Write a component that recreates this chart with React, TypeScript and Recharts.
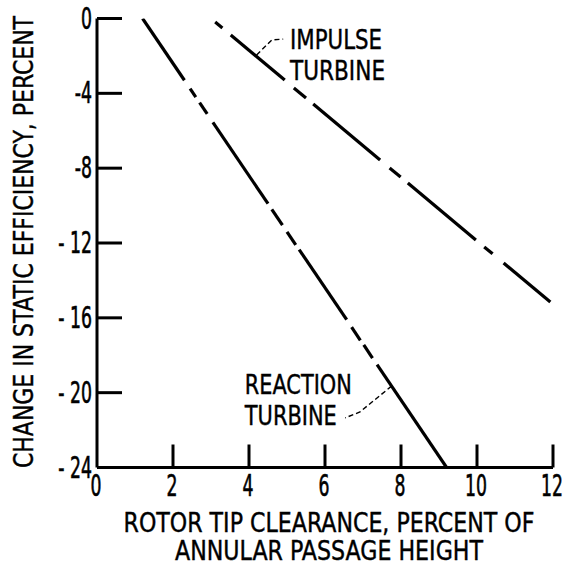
import { LineChart, Line, XAxis, YAxis, ReferenceDot } from 'recharts'

const FONT = "'DejaVu Sans Condensed', 'Liberation Sans Narrow', sans-serif"

const X_TICKS = [0, 2, 4, 6, 8, 10, 12]
const Y_TICKS = [0, -4, -8, -12, -16, -20, -24]

// each curve is drawn as runs of [x, y] pairs: long solid runs with short dashes between
const REACTION_RUNS = [
  [[1.2, 0], [2.3, -3.3]],
  [[2.45, -3.75], [2.6, -4.2]],
  [[2.7, -4.5], [2.9, -5.1]],
  [[3.05, -5.55], [4.5, -9.9]],
  [[4.6, -10.2], [4.88, -11.05]],
  [[5.0, -11.4], [5.23, -12.1]],
  [[5.32, -12.35], [6.57, -16.1]],
  [[6.7, -16.5], [6.93, -17.2]],
  [[7.02, -17.45], [7.25, -18.15]],
  [[7.37, -18.5], [9.2, -24]],
]

const IMPULSE_RUNS = [
  [[3.11, -0.19], [3.3, -0.51]],
  [[3.52, -0.88], [4.94, -3.29]],
  [[5.18, -3.71], [5.5, -4.25]],
  [[5.69, -4.57], [7.45, -7.56]],
  [[7.7, -7.99], [7.99, -8.47]],
  [[8.18, -8.79], [9.97, -11.84]],
  [[10.19, -12.21], [10.41, -12.58]],
  [[10.7, -13.07], [11.93, -15.15]],
]

const IMPULSE_LEADER = [[4.2, -1.95], [4.6, -1.15], [4.9, -1.1]]
const REACTION_LEADER = [[7.75, -19.65], [6.92, -21.03], [6.53, -21.35]]

// label lines with their printed widths (px) so the narrow lettering is kept
const IMPULSE_TEXT: [string, number][] = [['IMPULSE', 92], ['TURBINE', 95]]
const REACTION_TEXT: [string, number][] = [['REACTION', 107], ['TURBINE', 92]]

const toPoints = (pairs: number[][]) => pairs.map(([x, y]) => ({ x, y }))

const fmtTick = (v: number) => (v <= -10 ? `- ${-v}` : String(v))

// the original lettering is tall and narrow; squeeze glyphs sideways
const SQUEEZE = 0.87

function Narrow({ x, y, children, anchor = 'start' }: any) {
  return (
    <g transform={`translate(${x} ${y}) scale(0.64 1)`}>
      <text
        x={0}
        y={0}
        textAnchor={anchor}
        dominantBaseline="central"
        fontSize={30}
        fontFamily={FONT}
        fill="#000"
        stroke="#000"
        strokeWidth={0.6}
      >
        {children}
      </text>
    </g>
  )
}

function YTick(props: any) {
  const { x, y, payload } = props
  return (
    <g>
      {payload.value !== -24 && (
        <line x1={x} x2={x + 25} y1={y} y2={y} stroke="#000" strokeWidth={3} />
      )}
      <Narrow x={x - 5} y={y} anchor="end">{fmtTick(payload.value)}</Narrow>
    </g>
  )
}

function XTick(props: any) {
  const { x, y, payload } = props
  return (
    <g>
      {payload.value !== 0 && (
        <line x1={x} x2={x} y1={y} y2={y - 23} stroke="#000" strokeWidth={3} />
      )}
      <Narrow x={x - 1} y={y + 18} anchor="middle">{payload.value}</Narrow>
    </g>
  )
}

function FitText({ x, y, width, anchor = 'start', rotate = 0, children }: any) {
  return (
    <g transform={`translate(${x} ${y}) rotate(${rotate}) scale(${SQUEEZE} 1)`}>
      <text
        x={0}
        y={0}
        textLength={width / SQUEEZE}
        lengthAdjust="spacingAndGlyphs"
        textAnchor={anchor}
        dominantBaseline="central"
        fontSize={27}
        fontFamily={FONT}
        fill="#000"
        stroke="#000"
        strokeWidth={0.4}
      >
        {children}
      </text>
    </g>
  )
}

function xTitle(props: any) {
  const vb = props.viewBox
  const cx = vb.x + vb.width / 2 + 4
  return (
    <g>
      <FitText x={cx} y={vb.y + 55} width={411} anchor="middle">ROTOR TIP CLEARANCE, PERCENT OF</FitText>
      <FitText x={cx} y={vb.y + 83} width={308} anchor="middle">ANNULAR PASSAGE HEIGHT</FitText>
    </g>
  )
}

function yTitle(props: any) {
  const vb = props.viewBox
  return (
    <FitText x={vb.x + 24} y={vb.y + vb.height / 2 - 1} width={452} anchor="middle" rotate={-90}>
      CHANGE IN STATIC EFFICIENCY, PERCENT
    </FitText>
  )
}

const twoLines = (lines: [string, number][]) => (props: any) => {
  const vb = props.viewBox
  return (
    <g>
      {lines.map(([t, w], i) => (
        <FitText key={t + i} x={vb.x} y={vb.y + i * 31} width={w}>
          {t}
        </FitText>
      ))}
    </g>
  )
}

export default function App() {
  return (
    <div style={{ position: 'absolute', left: 0, top: 0, background: '#fff' }}>
      <LineChart width={565} height={565} margin={{ top: 18.5, right: 12, bottom: 0, left: 0 }}>
        <XAxis
          type="number"
          dataKey="x"
          domain={[0, 12]}
          ticks={X_TICKS}
          allowDataOverflow
          height={97.5}
          tickSize={0}
          tickMargin={0}
          tickLine={false}
          axisLine={{ stroke: '#000', strokeWidth: 3 }}
          tick={<XTick />}
          label={xTitle}
        />
        <YAxis
          type="number"
          dataKey="y"
          domain={[-24, 0]}
          ticks={Y_TICKS}
          allowDataOverflow
          width={97}
          tickSize={0}
          tickMargin={0}
          tickLine={false}
          axisLine={{ stroke: '#000', strokeWidth: 3 }}
          tick={<YTick />}
          label={yTitle}
        />
        {REACTION_RUNS.map((run, i) => (
          <Line
            key={'r' + i}
            data={toPoints(run)}
            dataKey="y"
            type="linear"
            stroke="#000"
            strokeWidth={3.2}
            dot={false}
            activeDot={false}
            isAnimationActive={false}
          />
        ))}
        {IMPULSE_RUNS.map((run, i) => (
          <Line
            key={'i' + i}
            data={toPoints(run)}
            dataKey="y"
            type="linear"
            stroke="#000"
            strokeWidth={3.2}
            dot={false}
            activeDot={false}
            isAnimationActive={false}
          />
        ))}
        <Line
          data={toPoints(IMPULSE_LEADER)}
          dataKey="y"
          type="linear"
          stroke="#000"
          strokeWidth={1.4}
          strokeDasharray="5 3"
          dot={false}
          activeDot={false}
          isAnimationActive={false}
        />
        <Line
          data={toPoints(REACTION_LEADER)}
          dataKey="y"
          type="linear"
          stroke="#000"
          strokeWidth={1.4}
          strokeDasharray="5 3"
          dot={false}
          activeDot={false}
          isAnimationActive={false}
        />
        <ReferenceDot x={5.08} y={-1.15} r={0} fill="none" stroke="none" label={twoLines(IMPULSE_TEXT)} />
        <ReferenceDot x={3.89} y={-19.59} r={0} fill="none" stroke="none" label={twoLines(REACTION_TEXT)} />
      </LineChart>
    </div>
  )
}
